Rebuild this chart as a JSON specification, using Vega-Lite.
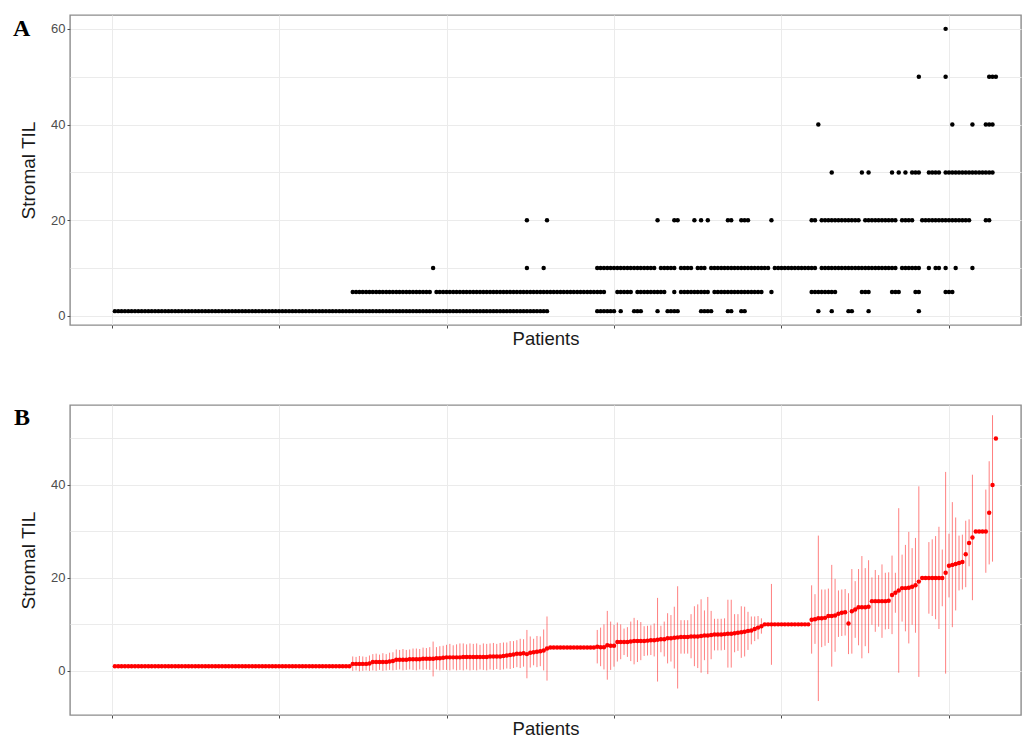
{
"$schema":"https://vega.github.io/schema/vega-lite/v6.json",
"padding":{"left":12,"top":14,"right":4,"bottom":2},
"spacing":80,
"bounds":"flush",
"config":{
 "font":"Liberation Sans",
 "view":{"stroke":"#8c8c8c","strokeWidth":1.4},
 "axis":{"domain":false,"gridColor":"#ebebeb","gridWidth":1,"tickColor":"#4d4d4d","tickSize":3,"labelColor":"#4d4d4d","labelFontSize":13,"labelFont":"Liberation Sans","titleFont":"Liberation Sans","titleFontSize":19,"titleFontWeight":"normal","titleColor":"#1a1a1a","labelPadding":2},
 "axisX":{"labels":false,"titlePadding":1,"titleFontSize":18.5},
 "axisY":{"titlePadding":12,"labelExpr":"datum.value % 20 == 0 ? datum.label : ''","tickOpacity":{"condition":{"test":"datum.value % 20 != 0","value":0},"value":1}}
},
"datasets":{
"pts":[
{"i":1,"v":1},{"i":2,"v":1},{"i":3,"v":1},{"i":4,"v":1},{"i":5,"v":1},{"i":6,"v":1},{"i":7,"v":1},{"i":8,"v":1},{"i":9,"v":1},{"i":10,"v":1},
{"i":11,"v":1},{"i":12,"v":1},{"i":13,"v":1},{"i":14,"v":1},{"i":15,"v":1},{"i":16,"v":1},{"i":17,"v":1},{"i":18,"v":1},{"i":19,"v":1},{"i":20,"v":1},
{"i":21,"v":1},{"i":22,"v":1},{"i":23,"v":1},{"i":24,"v":1},{"i":25,"v":1},{"i":26,"v":1},{"i":27,"v":1},{"i":28,"v":1},{"i":29,"v":1},{"i":30,"v":1},
{"i":31,"v":1},{"i":32,"v":1},{"i":33,"v":1},{"i":34,"v":1},{"i":35,"v":1},{"i":36,"v":1},{"i":37,"v":1},{"i":38,"v":1},{"i":39,"v":1},{"i":40,"v":1},
{"i":41,"v":1},{"i":42,"v":1},{"i":43,"v":1},{"i":44,"v":1},{"i":45,"v":1},{"i":46,"v":1},{"i":47,"v":1},{"i":48,"v":1},{"i":49,"v":1},{"i":50,"v":1},
{"i":51,"v":1},{"i":52,"v":1},{"i":53,"v":1},{"i":54,"v":1},{"i":55,"v":1},{"i":56,"v":1},{"i":57,"v":1},{"i":58,"v":1},{"i":59,"v":1},{"i":60,"v":1},
{"i":61,"v":1},{"i":62,"v":1},{"i":63,"v":1},{"i":64,"v":1},{"i":65,"v":1},{"i":66,"v":1},{"i":67,"v":1},{"i":68,"v":1},{"i":69,"v":1},{"i":70,"v":1},
{"i":71,"v":1},{"i":72,"v":1},{"i":73,"v":1},{"i":74,"v":1},{"i":75,"v":1},{"i":76,"v":1},{"i":77,"v":1},{"i":78,"v":1},{"i":79,"v":1},{"i":80,"v":1},
{"i":81,"v":1},{"i":82,"v":1},{"i":83,"v":1},{"i":84,"v":1},{"i":85,"v":1},{"i":86,"v":1},{"i":87,"v":1},{"i":88,"v":1},{"i":89,"v":1},{"i":90,"v":1},
{"i":91,"v":1},{"i":92,"v":1},{"i":93,"v":1},{"i":94,"v":1},{"i":95,"v":1},{"i":96,"v":1},{"i":97,"v":1},{"i":98,"v":1},{"i":99,"v":1},{"i":100,"v":1},
{"i":101,"v":1},{"i":102,"v":1},{"i":103,"v":1},{"i":104,"v":1},{"i":105,"v":1},{"i":106,"v":1},{"i":107,"v":1},{"i":108,"v":1},{"i":109,"v":1},{"i":110,"v":1},
{"i":111,"v":1},{"i":112,"v":1},{"i":113,"v":1},{"i":114,"v":1},{"i":115,"v":1},{"i":116,"v":1},{"i":117,"v":1},{"i":118,"v":1},{"i":119,"v":1},{"i":120,"v":1},
{"i":121,"v":1},{"i":122,"v":1},{"i":123,"v":1},{"i":124,"v":1},{"i":125,"v":1},{"i":126,"v":1},{"i":127,"v":1},{"i":128,"v":1},{"i":129,"v":1},{"i":130,"v":1},
{"i":145,"v":1},{"i":146,"v":1},{"i":147,"v":1},{"i":148,"v":1},{"i":149,"v":1},{"i":150,"v":1},{"i":152,"v":1},{"i":156,"v":1},{"i":157,"v":1},{"i":158,"v":1},
{"i":163,"v":1},{"i":166,"v":1},{"i":167,"v":1},{"i":168,"v":1},{"i":169,"v":1},{"i":176,"v":1},{"i":177,"v":1},{"i":178,"v":1},{"i":179,"v":1},{"i":184,"v":1},
{"i":185,"v":1},{"i":188,"v":1},{"i":189,"v":1},{"i":211,"v":1},{"i":215,"v":1},{"i":220,"v":1},{"i":221,"v":1},{"i":226,"v":1},{"i":241,"v":1},
{"i":72,"v":5},{"i":73,"v":5},{"i":74,"v":5},{"i":75,"v":5},{"i":76,"v":5},{"i":77,"v":5},{"i":78,"v":5},{"i":79,"v":5},{"i":80,"v":5},{"i":81,"v":5},
{"i":82,"v":5},{"i":83,"v":5},{"i":84,"v":5},{"i":85,"v":5},{"i":86,"v":5},{"i":87,"v":5},{"i":88,"v":5},{"i":89,"v":5},{"i":90,"v":5},{"i":91,"v":5},
{"i":92,"v":5},{"i":93,"v":5},{"i":94,"v":5},{"i":95,"v":5},{"i":97,"v":5},{"i":98,"v":5},{"i":99,"v":5},{"i":100,"v":5},{"i":101,"v":5},{"i":102,"v":5},
{"i":103,"v":5},{"i":104,"v":5},{"i":105,"v":5},{"i":106,"v":5},{"i":107,"v":5},{"i":108,"v":5},{"i":109,"v":5},{"i":110,"v":5},{"i":111,"v":5},{"i":112,"v":5},
{"i":113,"v":5},{"i":114,"v":5},{"i":115,"v":5},{"i":116,"v":5},{"i":117,"v":5},{"i":118,"v":5},{"i":119,"v":5},{"i":120,"v":5},{"i":121,"v":5},{"i":122,"v":5},
{"i":123,"v":5},{"i":124,"v":5},{"i":125,"v":5},{"i":126,"v":5},{"i":127,"v":5},{"i":128,"v":5},{"i":129,"v":5},{"i":130,"v":5},{"i":131,"v":5},{"i":132,"v":5},
{"i":133,"v":5},{"i":134,"v":5},{"i":135,"v":5},{"i":136,"v":5},{"i":137,"v":5},{"i":138,"v":5},{"i":139,"v":5},{"i":140,"v":5},{"i":141,"v":5},{"i":142,"v":5},
{"i":143,"v":5},{"i":144,"v":5},{"i":145,"v":5},{"i":146,"v":5},{"i":147,"v":5},{"i":151,"v":5},{"i":152,"v":5},{"i":153,"v":5},{"i":154,"v":5},{"i":155,"v":5},
{"i":157,"v":5},{"i":158,"v":5},{"i":159,"v":5},{"i":160,"v":5},{"i":161,"v":5},{"i":162,"v":5},{"i":163,"v":5},{"i":164,"v":5},{"i":165,"v":5},{"i":168,"v":5},
{"i":170,"v":5},{"i":171,"v":5},{"i":172,"v":5},{"i":173,"v":5},{"i":174,"v":5},{"i":175,"v":5},{"i":176,"v":5},{"i":177,"v":5},{"i":178,"v":5},{"i":180,"v":5},
{"i":181,"v":5},{"i":182,"v":5},{"i":183,"v":5},{"i":184,"v":5},{"i":185,"v":5},{"i":186,"v":5},{"i":187,"v":5},{"i":188,"v":5},{"i":189,"v":5},{"i":190,"v":5},
{"i":191,"v":5},{"i":192,"v":5},{"i":193,"v":5},{"i":194,"v":5},{"i":197,"v":5},{"i":209,"v":5},{"i":210,"v":5},{"i":211,"v":5},{"i":212,"v":5},{"i":213,"v":5},
{"i":214,"v":5},{"i":215,"v":5},{"i":216,"v":5},{"i":224,"v":5},{"i":225,"v":5},{"i":226,"v":5},{"i":233,"v":5},{"i":234,"v":5},{"i":235,"v":5},{"i":240,"v":5},
{"i":241,"v":5},{"i":249,"v":5},{"i":250,"v":5},{"i":251,"v":5},
{"i":96,"v":10},{"i":124,"v":10},{"i":129,"v":10},{"i":145,"v":10},{"i":146,"v":10},{"i":147,"v":10},{"i":148,"v":10},{"i":149,"v":10},{"i":150,"v":10},{"i":151,"v":10},
{"i":152,"v":10},{"i":153,"v":10},{"i":154,"v":10},{"i":155,"v":10},{"i":156,"v":10},{"i":157,"v":10},{"i":158,"v":10},{"i":159,"v":10},{"i":160,"v":10},{"i":161,"v":10},
{"i":162,"v":10},{"i":164,"v":10},{"i":165,"v":10},{"i":166,"v":10},{"i":167,"v":10},{"i":168,"v":10},{"i":170,"v":10},{"i":171,"v":10},{"i":172,"v":10},{"i":173,"v":10},
{"i":175,"v":10},{"i":176,"v":10},{"i":177,"v":10},{"i":179,"v":10},{"i":180,"v":10},{"i":181,"v":10},{"i":182,"v":10},{"i":183,"v":10},{"i":184,"v":10},{"i":185,"v":10},
{"i":186,"v":10},{"i":187,"v":10},{"i":188,"v":10},{"i":189,"v":10},{"i":190,"v":10},{"i":191,"v":10},{"i":192,"v":10},{"i":193,"v":10},{"i":194,"v":10},{"i":195,"v":10},
{"i":196,"v":10},{"i":198,"v":10},{"i":199,"v":10},{"i":200,"v":10},{"i":201,"v":10},{"i":202,"v":10},{"i":203,"v":10},{"i":204,"v":10},{"i":205,"v":10},{"i":206,"v":10},
{"i":207,"v":10},{"i":208,"v":10},{"i":209,"v":10},{"i":210,"v":10},{"i":212,"v":10},{"i":213,"v":10},{"i":214,"v":10},{"i":215,"v":10},{"i":216,"v":10},{"i":217,"v":10},
{"i":218,"v":10},{"i":219,"v":10},{"i":220,"v":10},{"i":221,"v":10},{"i":222,"v":10},{"i":223,"v":10},{"i":224,"v":10},{"i":225,"v":10},{"i":226,"v":10},{"i":227,"v":10},
{"i":228,"v":10},{"i":229,"v":10},{"i":230,"v":10},{"i":231,"v":10},{"i":232,"v":10},{"i":233,"v":10},{"i":234,"v":10},{"i":236,"v":10},{"i":237,"v":10},{"i":238,"v":10},
{"i":239,"v":10},{"i":240,"v":10},{"i":241,"v":10},{"i":244,"v":10},{"i":246,"v":10},{"i":247,"v":10},{"i":249,"v":10},{"i":252,"v":10},{"i":257,"v":10},
{"i":124,"v":20},{"i":130,"v":20},{"i":163,"v":20},{"i":168,"v":20},{"i":169,"v":20},{"i":174,"v":20},{"i":176,"v":20},{"i":178,"v":20},{"i":184,"v":20},{"i":185,"v":20},
{"i":188,"v":20},{"i":189,"v":20},{"i":190,"v":20},{"i":197,"v":20},{"i":209,"v":20},{"i":210,"v":20},{"i":212,"v":20},{"i":213,"v":20},{"i":214,"v":20},{"i":215,"v":20},
{"i":216,"v":20},{"i":217,"v":20},{"i":218,"v":20},{"i":219,"v":20},{"i":220,"v":20},{"i":221,"v":20},{"i":222,"v":20},{"i":223,"v":20},{"i":225,"v":20},{"i":226,"v":20},
{"i":227,"v":20},{"i":228,"v":20},{"i":229,"v":20},{"i":230,"v":20},{"i":231,"v":20},{"i":232,"v":20},{"i":233,"v":20},{"i":234,"v":20},{"i":236,"v":20},{"i":237,"v":20},
{"i":238,"v":20},{"i":239,"v":20},{"i":242,"v":20},{"i":243,"v":20},{"i":244,"v":20},{"i":245,"v":20},{"i":246,"v":20},{"i":247,"v":20},{"i":248,"v":20},{"i":249,"v":20},
{"i":250,"v":20},{"i":251,"v":20},{"i":252,"v":20},{"i":253,"v":20},{"i":254,"v":20},{"i":255,"v":20},{"i":256,"v":20},{"i":261,"v":20},{"i":262,"v":20},
{"i":215,"v":30},{"i":224,"v":30},{"i":226,"v":30},{"i":233,"v":30},{"i":235,"v":30},{"i":237,"v":30},{"i":239,"v":30},{"i":240,"v":30},{"i":241,"v":30},{"i":244,"v":30},
{"i":245,"v":30},{"i":246,"v":30},{"i":247,"v":30},{"i":249,"v":30},{"i":250,"v":30},{"i":251,"v":30},{"i":252,"v":30},{"i":253,"v":30},{"i":254,"v":30},{"i":255,"v":30},
{"i":256,"v":30},{"i":257,"v":30},{"i":258,"v":30},{"i":259,"v":30},{"i":260,"v":30},{"i":261,"v":30},{"i":262,"v":30},{"i":263,"v":30},
{"i":211,"v":40},{"i":251,"v":40},{"i":257,"v":40},{"i":261,"v":40},{"i":262,"v":40},{"i":263,"v":40},
{"i":241,"v":50},{"i":249,"v":50},{"i":262,"v":50},{"i":263,"v":50},{"i":264,"v":50},
{"i":249,"v":60}
],
"stat":[
{"i":1,"m":1},{"i":2,"m":1},{"i":3,"m":1},{"i":4,"m":1},{"i":5,"m":1},{"i":6,"m":1},{"i":7,"m":1},{"i":8,"m":1},{"i":9,"m":1},{"i":10,"m":1},
{"i":11,"m":1},{"i":12,"m":1},{"i":13,"m":1},{"i":14,"m":1},{"i":15,"m":1},{"i":16,"m":1},{"i":17,"m":1},{"i":18,"m":1},{"i":19,"m":1},{"i":20,"m":1},
{"i":21,"m":1},{"i":22,"m":1},{"i":23,"m":1},{"i":24,"m":1},{"i":25,"m":1},{"i":26,"m":1},{"i":27,"m":1},{"i":28,"m":1},{"i":29,"m":1},{"i":30,"m":1},
{"i":31,"m":1},{"i":32,"m":1},{"i":33,"m":1},{"i":34,"m":1},{"i":35,"m":1},{"i":36,"m":1},{"i":37,"m":1},{"i":38,"m":1},{"i":39,"m":1},{"i":40,"m":1},
{"i":41,"m":1},{"i":42,"m":1},{"i":43,"m":1},{"i":44,"m":1},{"i":45,"m":1},{"i":46,"m":1},{"i":47,"m":1},{"i":48,"m":1},{"i":49,"m":1},{"i":50,"m":1},
{"i":51,"m":1},{"i":52,"m":1},{"i":53,"m":1},{"i":54,"m":1},{"i":55,"m":1},{"i":56,"m":1},{"i":57,"m":1},{"i":58,"m":1},{"i":59,"m":1},{"i":60,"m":1},
{"i":61,"m":1},{"i":62,"m":1},{"i":63,"m":1},{"i":64,"m":1},{"i":65,"m":1},{"i":66,"m":1},{"i":67,"m":1},{"i":68,"m":1},{"i":69,"m":1},{"i":70,"m":1},
{"i":71,"m":1},
{"i":72,"m":1.5,"lo":0.0,"hi":3.1},{"i":73,"m":1.5,"lo":0.1,"hi":3.0},{"i":74,"m":1.5,"lo":-0.1,"hi":3.2},{"i":75,"m":1.5,"lo":0.0,"hi":3.1},{"i":76,"m":1.5,"lo":0.1,"hi":3.0},
{"i":77,"m":1.6,"lo":0.0,"hi":3.3},{"i":78,"m":1.9,"lo":0.1,"hi":3.6},{"i":79,"m":1.9,"lo":0.0,"hi":3.7},{"i":80,"m":1.9,"lo":0.2,"hi":3.5},{"i":81,"m":1.9,"lo":0.0,"hi":3.8},
{"i":82,"m":1.9,"lo":0.1,"hi":3.6},{"i":83,"m":2.0,"lo":0.2,"hi":3.9},{"i":84,"m":2.1,"lo":0.1,"hi":4.0},{"i":85,"m":2.4,"lo":0.2,"hi":4.6},{"i":86,"m":2.4,"lo":0.3,"hi":4.5},
{"i":87,"m":2.4,"lo":0.1,"hi":4.7},{"i":88,"m":2.4,"lo":0.2,"hi":4.5},{"i":89,"m":2.5,"lo":0.3,"hi":4.6},{"i":90,"m":2.5,"lo":0.2,"hi":4.8},{"i":91,"m":2.5,"lo":0.1,"hi":4.8},
{"i":92,"m":2.5,"lo":0.3,"hi":4.7},{"i":93,"m":2.6,"lo":0.2,"hi":5.0},{"i":94,"m":2.6,"lo":0.3,"hi":4.9},{"i":95,"m":2.6,"lo":0.2,"hi":5.1},{"i":96,"m":2.6,"lo":-1.2,"hi":6.3},
{"i":97,"m":2.7,"lo":0.3,"hi":5.1},{"i":98,"m":2.7,"lo":0.1,"hi":5.3},{"i":99,"m":2.8,"lo":0.2,"hi":5.4},{"i":100,"m":2.9,"lo":0.2,"hi":5.6},{"i":101,"m":2.9,"lo":0.1,"hi":5.8},
{"i":102,"m":2.9,"lo":0.3,"hi":5.5},{"i":103,"m":2.9,"lo":0.1,"hi":5.7},{"i":104,"m":2.9,"lo":0.2,"hi":5.9},{"i":105,"m":3.0,"lo":0.1,"hi":5.9},{"i":106,"m":3.0,"lo":0.3,"hi":5.7},
{"i":107,"m":3.0,"lo":0.1,"hi":5.9},{"i":108,"m":3.0,"lo":0.2,"hi":5.8},{"i":109,"m":3.0,"lo":0.1,"hi":5.9},{"i":110,"m":3.0,"lo":0.3,"hi":5.6},{"i":111,"m":3.0,"lo":0.2,"hi":5.9},
{"i":112,"m":3.0,"lo":0.1,"hi":5.8},{"i":113,"m":3.1,"lo":0.3,"hi":5.9},{"i":114,"m":3.1,"lo":0.2,"hi":6.0},{"i":115,"m":3.1,"lo":0.4,"hi":5.8},{"i":116,"m":3.1,"lo":0.2,"hi":6.0},
{"i":117,"m":3.2,"lo":0.3,"hi":6.1},{"i":118,"m":3.3,"lo":0.5,"hi":6.1},{"i":119,"m":3.4,"lo":0.4,"hi":6.4},{"i":120,"m":3.5,"lo":0.6,"hi":6.4},{"i":121,"m":3.7,"lo":0.8,"hi":6.6},
{"i":122,"m":3.7,"lo":0.6,"hi":6.9},{"i":123,"m":3.8,"lo":0.9,"hi":6.8},{"i":124,"m":3.6,"lo":-1.6,"hi":8.8},{"i":125,"m":3.9,"lo":0.7,"hi":7.4},{"i":126,"m":4.0,"lo":1.2,"hi":6.9},
{"i":127,"m":4.1,"lo":0.8,"hi":7.5},{"i":128,"m":4.2,"lo":1.0,"hi":7.4},{"i":129,"m":4.4,"lo":0.1,"hi":8.9},{"i":130,"m":4.8,"lo":-2.1,"hi":11.7},
{"i":131,"m":5},{"i":132,"m":5},{"i":133,"m":5},{"i":134,"m":5},{"i":135,"m":5},{"i":136,"m":5},{"i":137,"m":5},{"i":138,"m":5},{"i":139,"m":5},{"i":140,"m":5},
{"i":141,"m":5},{"i":142,"m":5},{"i":143,"m":5},{"i":144,"m":5},
{"i":145,"m":5.2,"lo":1.6,"hi":8.8},{"i":146,"m":5.1,"lo":1.0,"hi":9.3},{"i":147,"m":5.1,"lo":0.3,"hi":10.0},{"i":148,"m":5.5,"lo":-1.9,"hi":12.9},{"i":149,"m":5.4,"lo":0.2,"hi":10.6},
{"i":150,"m":5.4,"lo":0.9,"hi":9.9},{"i":151,"m":6.2,"lo":2.0,"hi":10.4},{"i":152,"m":6.2,"lo":2.5,"hi":10.0},{"i":153,"m":6.2,"lo":3.4,"hi":9.1},{"i":154,"m":6.2,"lo":3.0,"hi":9.4},
{"i":155,"m":6.3,"lo":2.1,"hi":10.6},{"i":156,"m":6.4,"lo":1.4,"hi":11.4},{"i":157,"m":6.4,"lo":1.9,"hi":10.9},{"i":158,"m":6.4,"lo":2.3,"hi":10.5},{"i":159,"m":6.4,"lo":3.2,"hi":9.6},
{"i":160,"m":6.5,"lo":3.3,"hi":9.7},{"i":161,"m":6.6,"lo":3.4,"hi":9.8},{"i":162,"m":6.6,"lo":3.1,"hi":10.2},{"i":163,"m":6.7,"lo":-2.3,"hi":15.7},{"i":164,"m":6.8,"lo":4.0,"hi":9.7},
{"i":165,"m":6.8,"lo":3.1,"hi":10.6},{"i":166,"m":7.0,"lo":1.6,"hi":12.4},{"i":167,"m":7.0,"lo":2.0,"hi":12.0},{"i":168,"m":7.1,"lo":0.5,"hi":13.8},{"i":169,"m":7.2,"lo":-3.8,"hi":18.2},
{"i":170,"m":7.3,"lo":3.7,"hi":10.9},{"i":171,"m":7.3,"lo":3.7,"hi":10.9},{"i":172,"m":7.3,"lo":3.7,"hi":10.9},{"i":173,"m":7.4,"lo":2.7,"hi":12.2},{"i":174,"m":7.4,"lo":1.0,"hi":13.9},
{"i":175,"m":7.4,"lo":0.6,"hi":14.3},{"i":176,"m":7.5,"lo":-0.4,"hi":15.4},{"i":177,"m":7.6,"lo":2.3,"hi":13.0},{"i":178,"m":7.6,"lo":-0.7,"hi":15.9},{"i":179,"m":7.7,"lo":2.5,"hi":12.9},
{"i":180,"m":7.8,"lo":4.4,"hi":11.2},{"i":181,"m":7.8,"lo":4.4,"hi":11.2},{"i":182,"m":7.8,"lo":4.4,"hi":11.2},{"i":183,"m":7.9,"lo":4.5,"hi":11.3},{"i":184,"m":8.0,"lo":0.7,"hi":15.3},
{"i":185,"m":8.0,"lo":0.7,"hi":15.3},{"i":186,"m":8.1,"lo":4.0,"hi":12.2},{"i":187,"m":8.2,"lo":4.3,"hi":12.2},{"i":188,"m":8.3,"lo":2.8,"hi":13.9},{"i":189,"m":8.4,"lo":3.1,"hi":13.8},
{"i":190,"m":8.6,"lo":4.5,"hi":12.7},{"i":191,"m":8.7,"lo":5.7,"hi":11.7},{"i":192,"m":9.0,"lo":6.4,"hi":11.7},{"i":193,"m":9.3,"lo":6.8,"hi":11.8},{"i":194,"m":9.6,"lo":8.0,"hi":11.3},
{"i":195,"m":10},{"i":196,"m":10},{"i":197,"m":10,"lo":1.3,"hi":18.7},{"i":198,"m":10},{"i":199,"m":10},{"i":200,"m":10},{"i":201,"m":10},{"i":202,"m":10},{"i":203,"m":10},
{"i":204,"m":10},{"i":205,"m":10},{"i":206,"m":10},{"i":207,"m":10},{"i":208,"m":10},
{"i":209,"m":11.0,"lo":3.7,"hi":18.4},{"i":210,"m":11.1,"lo":5.8,"hi":16.5},{"i":211,"m":11.3,"lo":-6.5,"hi":29.1},{"i":212,"m":11.3,"lo":5.1,"hi":17.5},{"i":213,"m":11.4,"lo":5.4,"hi":17.5},
{"i":214,"m":11.8,"lo":6.0,"hi":17.7},{"i":215,"m":11.8,"lo":0.9,"hi":22.8},{"i":216,"m":11.9,"lo":4.1,"hi":19.8},{"i":217,"m":12.3,"lo":7.3,"hi":17.3},{"i":218,"m":12.5,"lo":7.5,"hi":17.5},
{"i":219,"m":12.6,"lo":7.6,"hi":17.6},{"i":220,"m":10.2,"lo":3.6,"hi":16.7},{"i":221,"m":12.8,"lo":3.7,"hi":21.9},{"i":222,"m":13.2,"lo":7.1,"hi":19.3},{"i":223,"m":13.7,"lo":5.5,"hi":21.9},
{"i":224,"m":13.7,"lo":2.7,"hi":24.7},{"i":225,"m":13.7,"lo":5.3,"hi":22.1},{"i":226,"m":13.8,"lo":3.8,"hi":23.8},{"i":227,"m":15.0,"lo":9.9,"hi":20.1},{"i":228,"m":15.0,"lo":8.4,"hi":21.7},
{"i":229,"m":15.0,"lo":9.5,"hi":20.6},{"i":230,"m":15.0,"lo":7.1,"hi":22.9},{"i":231,"m":15.0,"lo":8.9,"hi":21.1},{"i":232,"m":15.1,"lo":9.0,"hi":21.2},{"i":233,"m":16.3,"lo":7.9,"hi":24.8},
{"i":234,"m":16.8,"lo":12.5,"hi":21.1},{"i":235,"m":17.3,"lo":-0.4,"hi":35.0},{"i":236,"m":17.8,"lo":10.6,"hi":25.0},{"i":237,"m":17.8,"lo":8.5,"hi":27.1},{"i":238,"m":17.9,"lo":5.9,"hi":29.9},
{"i":239,"m":18.1,"lo":9.9,"hi":26.4},{"i":240,"m":18.4,"lo":8.2,"hi":28.6},{"i":241,"m":19.2,"lo":-1.3,"hi":39.7},{"i":242,"m":20},{"i":243,"m":20},
{"i":244,"m":20,"lo":12.3,"hi":27.7},{"i":245,"m":20,"lo":11.8,"hi":28.3},{"i":246,"m":20,"lo":11.1,"hi":29.0},{"i":247,"m":20,"lo":9.0,"hi":31.0},{"i":248,"m":20,"lo":13.9,"hi":26.1},
{"i":249,"m":21.1,"lo":-0.6,"hi":42.8},{"i":250,"m":22.6,"lo":15.8,"hi":29.5},{"i":251,"m":22.8,"lo":9.4,"hi":36.3},{"i":252,"m":23.0,"lo":13.0,"hi":33.0},{"i":253,"m":23.2,"lo":17.3,"hi":29.1},
{"i":254,"m":23.4,"lo":17.5,"hi":29.3},{"i":255,"m":25.1,"lo":18.0,"hi":32.3},{"i":256,"m":27.5,"lo":22.5,"hi":32.6},{"i":257,"m":28.7,"lo":15.2,"hi":42.2},{"i":258,"m":30},
{"i":259,"m":30},{"i":260,"m":30},{"i":261,"m":30,"lo":21.1,"hi":39.0},{"i":262,"m":34,"lo":22.9,"hi":45.1},{"i":263,"m":40,"lo":23.5,"hi":55.0},{"i":264,"m":50}
]
},
"vconcat":[
{
 "width":951,"height":310,
 "title":{"text":"A","anchor":"start","frame":"group","orient":"top","offset":-45,"dx":-57,"baseline":"alphabetic","font":"Liberation Serif","fontSize":24,"fontWeight":"bold","color":"#000000"},
 "data":{"name":"pts"},
 "mark":{"type":"point","filled":true,"size":20,"color":"#000000","opacity":1},
 "encoding":{
  "x":{"field":"i","type":"quantitative","scale":{"domain":[-12.4,271.5],"nice":false,"zero":false},"axis":{"title":"Patients","values":[0,50,100,150,200,250]}},
  "y":{"field":"v","type":"quantitative","scale":{"domain":[-1.9,62.9],"nice":false,"zero":false},"axis":{"title":"Stromal TIL","values":[0,10,20,30,40,50,60]}}
 }
},
{
 "width":951,"height":310,
 "title":{"text":"B","anchor":"start","frame":"group","orient":"top","offset":-44,"dx":-56,"baseline":"alphabetic","font":"Liberation Serif","fontSize":24,"fontWeight":"bold","color":"#000000"},
 "data":{"name":"stat"},
 "layer":[
  {"mark":{"type":"rule","color":"#ff0000","opacity":0.5,"strokeWidth":1},
   "encoding":{
    "x":{"field":"i","type":"quantitative","scale":{"domain":[-12.4,271.5],"nice":false,"zero":false},"axis":{"title":"Patients","values":[0,50,100,150,200,250]}},
    "y":{"field":"lo","type":"quantitative","scale":{"domain":[-9.5,57.2],"nice":false,"zero":false},"axis":{"title":"Stromal TIL","values":[0,10,20,30,40,50]}},
    "y2":{"field":"hi"}
   }},
  {"mark":{"type":"point","filled":true,"size":20,"color":"#ff0000","opacity":1},
   "encoding":{
    "x":{"field":"i","type":"quantitative"},
    "y":{"field":"m","type":"quantitative"}
   }}
 ]
}
]
}
